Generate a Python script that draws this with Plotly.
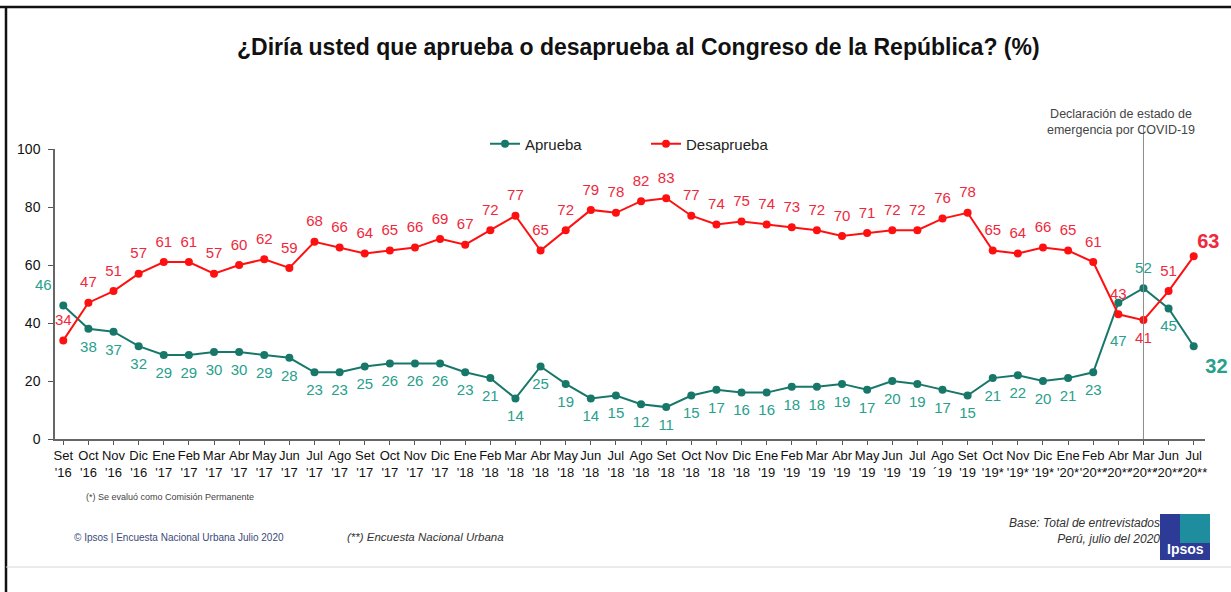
import plotly.graph_objects as go

# Survey waves (month + year, * = Comisión Permanente, ** = Encuesta Nacional Urbana)
months = ["Set", "Oct", "Nov", "Dic",
          "Ene", "Feb", "Mar", "Abr", "May", "Jun", "Jul", "Ago", "Set", "Oct", "Nov", "Dic",
          "Ene", "Feb", "Mar", "Abr", "May", "Jun", "Jul", "Ago", "Set", "Oct", "Nov", "Dic",
          "Ene", "Feb", "Mar", "Abr", "May", "Jun", "Jul", "Ago", "Set", "Oct", "Nov", "Dic",
          "Ene", "Feb", "Abr", "Mar", "Jun", "Jul"]
years = ["'16"] * 4 + ["'17"] * 12 + ["'18"] * 12 + ["'19"] * 7 + ["´19", "'19"] + \
        ["'19*"] * 3 + ["'20*", "'20**", "'20**", "'20**", "'20**", "'20**"]

aprueba = [46, 38, 37, 32,
           29, 29, 30, 30, 29, 28, 23, 23, 25, 26, 26, 26,
           23, 21, 14, 25, 19, 14, 15, 12, 11, 15, 17, 16,
           16, 18, 18, 19, 17, 20, 19, 17, 15, 21, 22, 20,
           21, 23, 47, 52, 45, 32]
desaprueba = [34, 47, 51, 57,
              61, 61, 57, 60, 62, 59, 68, 66, 64, 65, 66, 69,
              67, 72, 77, 65, 72, 79, 78, 82, 83, 77, 74, 75,
              74, 73, 72, 70, 71, 72, 72, 76, 78, 65, 64, 66,
              65, 61, 43, 41, 51, 63]

tick_text = [f"{m}<br>{y}" for m, y in zip(months, years)]
idx = list(range(len(months)))
n = len(idx)

TEAL_LINE = "#17786a"
TEAL_TEXT = "#27a08c"
RED_LINE = "#ff1010"
RED_TEXT = "#f0283c"
FONT = "Arial, Liberation Sans, sans-serif"

# plot-area geometry in pixels
L, R, T, B = 55, 1205, 149, 439
W, H = 1231, 592


def px(x):
    return (x - L) / (R - L)


def py(y):
    return (B - y) / (B - T)


# label placement per point
ap_pos = ["bottom center"] * n
ap_pos[0] = "top left"
ap_pos[43] = "top center"
ap_pos[n - 1] = "bottom right"
de_pos = ["top center"] * n
de_pos[43] = "bottom center"
de_pos[n - 1] = "top right"

# size of the invisible anchor markers: controls label distance from each point
ap_gap = [17] * n
ap_gap[42] = 50
de_gap = [17] * n
de_gap[n - 1] = 4

ap_text = [str(v) for v in aprueba]
de_text = [str(v) for v in desaprueba]
ap_text[-1] = f"<b>{aprueba[-1]}</b>"
de_text[-1] = f"<b>{desaprueba[-1]}</b>"
sizes = [15] * (n - 1) + [20]

fig = go.Figure()
fig.add_trace(go.Scatter(x=idx, y=aprueba, mode="lines+markers", name="Aprueba",
                         line=dict(color=TEAL_LINE, width=2),
                         marker=dict(color=TEAL_LINE, size=8), cliponaxis=False))
fig.add_trace(go.Scatter(x=idx, y=desaprueba, mode="lines+markers", name="Desaprueba",
                         line=dict(color=RED_LINE, width=2),
                         marker=dict(color=RED_LINE, size=8), cliponaxis=False))
for vals, txt, pos, gap, col in [(aprueba, ap_text, ap_pos, ap_gap, TEAL_TEXT),
                                 (desaprueba, de_text, de_pos, de_gap, RED_TEXT)]:
    fig.add_trace(go.Scatter(x=idx, y=vals, mode="markers+text", text=txt, textposition=pos,
                             marker=dict(size=gap, opacity=0),
                             textfont=dict(color=col, size=sizes, family=FONT),
                             showlegend=False, cliponaxis=False, hoverinfo="skip"))

shapes = [
    # slide frame
    dict(type="line", xref="paper", yref="paper", x0=px(0), x1=px(W), y0=py(7), y1=py(7),
         line=dict(color="#111", width=2.5)),
    dict(type="line", xref="paper", yref="paper", x0=px(6), x1=px(6), y0=py(7), y1=py(W),
         line=dict(color="#111", width=2.5)),
    dict(type="line", xref="paper", yref="paper", x0=px(6), x1=px(W), y0=py(567), y1=py(567),
         line=dict(color="#d8d8d8", width=1)),
    # COVID-19 marker line
    dict(type="line", xref="x", yref="paper", x0=43, x1=43, y0=0, y1=py(126),
         line=dict(color="#8a8a8a", width=1)),
    # Ipsos logo
    dict(type="rect", xref="paper", yref="paper", x0=px(1160), x1=px(1210), y0=py(560), y1=py(514),
         fillcolor="#2d3a96", line=dict(width=0), layer="above"),
    dict(type="rect", xref="paper", yref="paper", x0=px(1180), x1=px(1210), y0=py(543), y1=py(514),
         fillcolor="#1aa3a0", line=dict(width=0), layer="above", opacity=0.8),
]

ann = [
    dict(text="<b>¿Diría usted que aprueba o desaprueba al Congreso de la República? (%)</b>",
         x=px(638), y=py(47), font=dict(size=23, color="#111")),
    dict(text="Declaración de estado de<br>emergencia por COVID-19",
         x=px(1121), y=py(122), font=dict(size=12.5, color="#444")),
    dict(text="(*) Se evaluó como Comisión Permanente", x=px(84), y=py(497), xanchor="left",
         font=dict(size=9, color="#444")),
    dict(text="© Ipsos | Encuesta Nacional Urbana Julio 2020", x=px(72), y=py(537), xanchor="left",
         font=dict(size=10, color="#3b4a78")),
    dict(text="<i>(**) Encuesta Nacional Urbana</i>", x=px(345), y=py(537), xanchor="left",
         font=dict(size=11.5, color="#333")),
    dict(text="<i>Base: Total de entrevistados<br>Perú, julio del 2020</i>", x=px(1162), y=py(531),
         xanchor="right", align="right", font=dict(size=12, color="#333")),
    dict(text="<b>Ipsos</b>", x=px(1185), y=py(549), font=dict(size=14, color="white")),
]
for a in ann:
    a.setdefault("xref", "paper")
    a.setdefault("yref", "paper")
    a.setdefault("showarrow", False)
    a.setdefault("yanchor", "middle")
    a.setdefault("xanchor", "center")

fig.update_layout(
    width=W, height=H,
    margin=dict(l=L, r=W - R, t=T, b=H - B),
    paper_bgcolor="white", plot_bgcolor="white",
    font=dict(family=FONT, color="#111"),
    showlegend=True,
    legend=dict(orientation="h", x=px(485), xanchor="left", y=py(144), yanchor="middle",
                entrywidth=116, entrywidthmode="pixels", font=dict(size=15, color="#222"),
                bgcolor="rgba(0,0,0,0)", itemwidth=30, tracegroupgap=0),
    shapes=shapes, annotations=ann,
)
fig.update_xaxes(range=[-0.33, n - 0.55], tickmode="array", tickvals=idx, ticktext=tick_text,
                 tickangle=0, tickson="boundaries", ticks="outside", ticklen=4,
                 tickcolor="#555", showline=True, linecolor="#666", linewidth=1.5,
                 showgrid=False, zeroline=False, tickfont=dict(size=13, color="#111"))
fig.update_yaxes(range=[0, 100], tickvals=[0, 20, 40, 60, 80, 100], ticks="outside", ticklen=5,
                 tickcolor="#555", showline=True, linecolor="#666", linewidth=1.5,
                 showgrid=False, zeroline=False, ticklabelstandoff=5,
                 tickfont=dict(size=14, color="#111"))

fig.write_html("out.html")
